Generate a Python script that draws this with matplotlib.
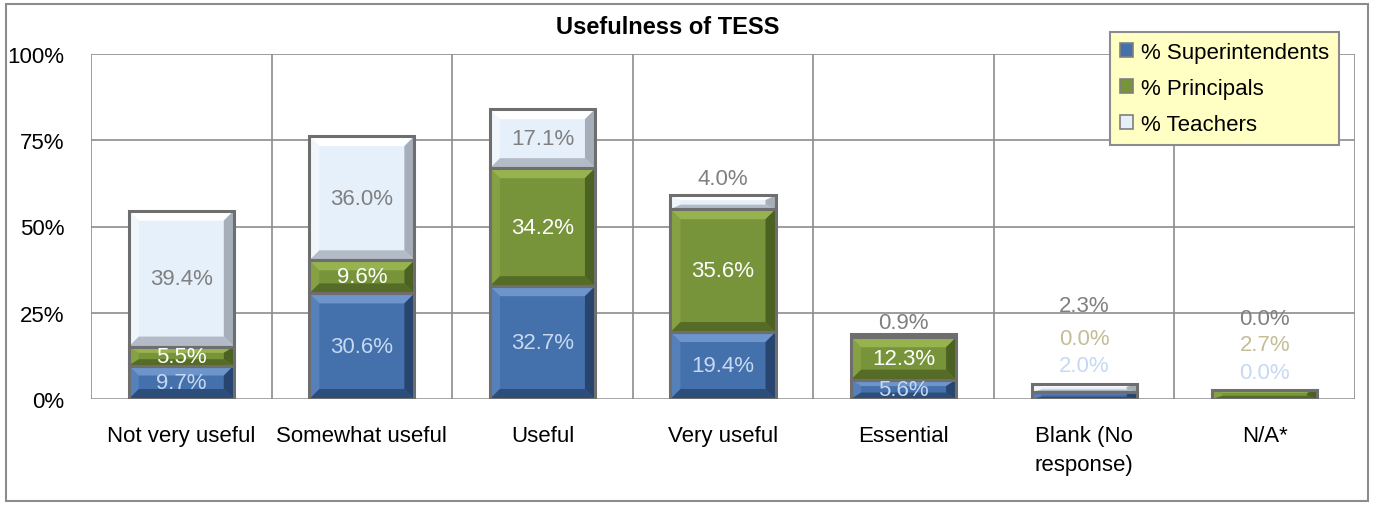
import matplotlib
matplotlib.use("Agg")
import matplotlib.pyplot as plt
from matplotlib.patches import Polygon, Rectangle, Patch
from matplotlib import font_manager
import numpy as np

names = set(f.name for f in font_manager.fontManager.ttflist)
fams = [f for f in ["Liberation Sans Narrow", "DejaVu Sans Condensed", "Liberation Sans"] if f in names]
plt.rcParams['font.family'] = fams + ['DejaVu Sans']

# data
categories = ["Not very useful", "Somewhat useful", "Useful", "Very useful",
              "Essential", "Blank (No\nresponse)", "N/A*"]
superintendents = [9.7, 30.6, 32.7, 19.4, 5.6, 2.0, 0.0]
principals = [5.5, 9.6, 34.2, 35.6, 12.3, 0.0, 2.7]
teachers = [39.4, 36.0, 17.1, 4.0, 0.9, 2.3, 0.0]
series_names = ["% Superintendents", "% Principals", "% Teachers"]

# colours per series: base, light bevel, dark bevel
styles = [
    ("#4470ab", "#6d95cb", "#284570"),
    ("#77943a", "#97b350", "#4c6222"),
    ("#e6f0fb", "#ffffff", "#a5aeb9"),
]
label_colors = ["#c6d9f1", "#ffffff", "#808080"]
label_colors_out = ["#c6d9f1", "#c4bd97", "#808080"]

# labels that sit outside their segment: (category, series) -> y position
outside_labels = {
    (3, 2): 63.8,
    (4, 2): 22.3,
    (5, 0): 9.6, (5, 1): 17.4, (5, 2): 27.0,
    (6, 0): 7.8, (6, 1): 15.7, (6, 2): 23.2,
}

W, H = 1377, 506
fig = plt.figure(figsize=(W / 100, H / 100), dpi=100)
fig.patch.set_facecolor("white")
ax_l, ax_r, ax_t, ax_b = 91, 1355, 55, 400
ax = fig.add_axes([ax_l / W, 1 - ax_b / H, (ax_r - ax_l) / W, (ax_b - ax_t) / H])

n = len(categories)
x = np.arange(n)
ax.set_xlim(-0.5, n - 0.5)
ax.set_ylim(0, 100)

# pixel -> data scale
px_x = n / (ax_r - ax_l)
px_y = 100 / (ax_b - ax_t)

grid_c = "#8c8c8c"
for v in [25, 50, 75, 100]:
    ax.axhline(v, color=grid_c, lw=1.2, zorder=0)
for b in np.arange(-0.5, n, 1.0):
    ax.axvline(b, color=grid_c, lw=1.2, zorder=0)
for s in ax.spines.values():
    s.set_visible(False)
ax.axhline(0, color=grid_c, lw=1.8, zorder=0)


def bevel_bar(xc, y0, h, width, base, light, dark):
    x0, x1 = xc - width / 2, xc + width / 2
    y1 = y0 + h
    bx = min(10 * px_x, width / 4)
    by = min(10 * px_y, h / 3)
    edge = "#6e6e6e"
    ax.add_patch(Rectangle((x0, y0), width, h, fc=base, ec="none", zorder=2))
    ix0, ix1, iy0, iy1 = x0 + bx, x1 - bx, y0 + by, y1 - by
    ax.add_patch(Polygon([(x0, y1), (x1, y1), (ix1, iy1), (ix0, iy1)], fc=light, ec="none", zorder=2))
    ax.add_patch(Polygon([(x0, y0), (x0, y1), (ix0, iy1), (ix0, iy0)], fc=light, ec="none", alpha=0.45, zorder=2))
    ax.add_patch(Polygon([(x1, y0), (x1, y1), (ix1, iy1), (ix1, iy0)], fc=dark, ec="none", zorder=2))
    ax.add_patch(Polygon([(x0, y0), (x1, y0), (ix1, iy0), (ix0, iy0)], fc=dark, ec="none", alpha=0.8, zorder=2))
    ax.add_patch(Rectangle((x0, y0), width, h, fc="none", ec=edge, lw=2.2, zorder=3))


width = 105 / 180.5
bottoms = np.zeros(n)
for si, vals in enumerate([superintendents, principals, teachers]):
    base, light, dark = styles[si]
    for i, v in enumerate(vals):
        if v > 0:
            bevel_bar(x[i], bottoms[i], v, width, base, light, dark)
        key = (i, si)
        if key in outside_labels:
            ax.text(x[i], outside_labels[key], f"{v:.1f}%", ha="center", va="center",
                    fontsize=16, color=label_colors_out[si], zorder=5)
        else:
            ax.text(x[i], bottoms[i] + v / 2, f"{v:.1f}%", ha="center", va="center",
                    fontsize=16, color=label_colors[si], zorder=5)
    bottoms += np.array(vals)

ax.set_yticks([0, 25, 50, 75, 100])
ax.set_yticklabels(["0%", "25%", "50%", "75%", "100%"], fontsize=16)
ax.set_xticks(x)
ax.set_xticklabels(categories, fontsize=16, linespacing=1.45, va="top")
ax.tick_params(length=0)
ax.tick_params(axis="x", pad=19)
ax.tick_params(axis="y", pad=19)

fig.text(668 / W, 1 - 28 / H, "Usefulness of TESS", ha="center", va="center",
         fontsize=17, fontweight="bold")

# chart border
fig.patches.append(Rectangle((6 / W, 1 - 502 / H), 1362 / W, 497 / H, transform=fig.transFigure,
                             fc="none", ec="#8c8c8c", lw=1.5))

handles = [Patch(fc=styles[i][0], ec="#7f7f7f", lw=1.2) for i in range(3)]
leg = fig.legend(handles, series_names, loc="upper left",
                 bbox_to_anchor=(1110 / W, 1 - 33 / H), fontsize=16,
                 frameon=True, fancybox=False, handlelength=0.6, handleheight=0.6,
                 handletextpad=0.35, borderpad=0.45, labelspacing=0.68, borderaxespad=0)
leg.get_frame().set_facecolor("#ffffc4")
leg.get_frame().set_edgecolor("#8c8c8c")
leg.get_frame().set_linewidth(1.5)
leg.get_frame().set_alpha(1)

fig.savefig("out.png", dpi=100)
